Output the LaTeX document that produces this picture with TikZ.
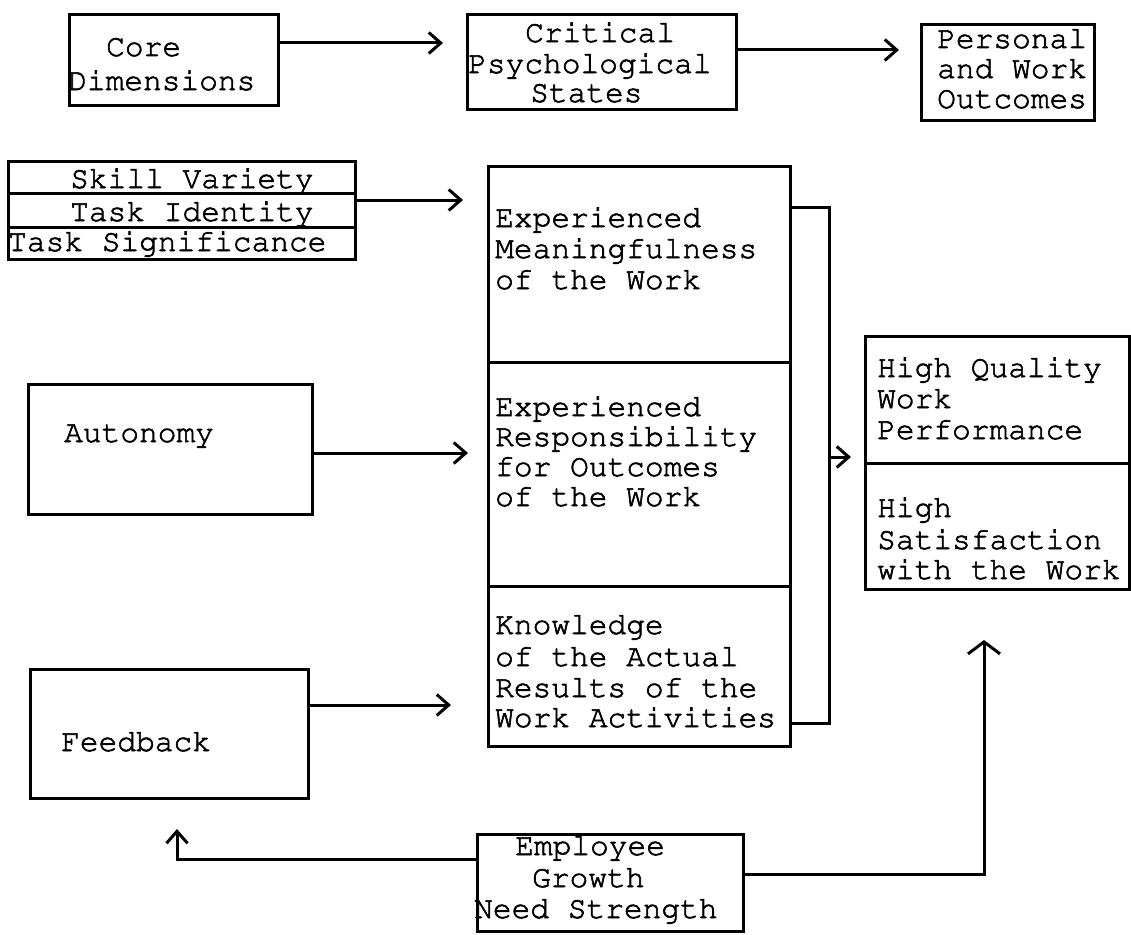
\documentclass[tikz,border=0pt]{standalone}
\usepackage[T1]{fontenc}
\newcommand\courfont{\fontencoding{T1}\fontfamily{pcr}\fontseries{m}\fontshape{n}\selectfont}
\usetikzlibrary{arrows.meta,calc}
\begin{document}
\begin{tikzpicture}[x=1pt,y=-1pt,
  box/.style={draw, line width=3pt, inner sep=0pt, anchor=north west},
  txt/.style={font={\courfont\fontsize{31.2}{32}\selectfont}, inner sep=0pt, anchor=base west,
    execute at begin node={\special{pdf:literal direct 2 Tr 0.6 w}},
    execute at end node={\special{pdf:literal direct 0 Tr}}},
  conn/.style={line width=3pt, line join=miter},
  arr/.style={conn, -{Straight Barb[length=12pt,width=21pt]}},
  arrwide/.style={conn, -{Straight Barb[length=12pt,width=32pt]}},
]
\fill[white] (0,0) rectangle (1131,934);
\useasboundingbox (0,0) rectangle (1131,934);

% ---------- boxes ----------
\node[box, minimum width=209pt, minimum height=91pt] (core) at (68,13) {};
\node[box, minimum width=269pt, minimum height=95pt] (crit) at (466,13) {};
\node[box, minimum width=173pt, minimum height=96pt] (pers) at (920,23) {};

\node[box, minimum width=347pt, minimum height=32pt] (sv) at (7,160) {};
\node[box, minimum width=347pt, minimum height=34pt] (ti) at (7,192) {};
\node[box, minimum width=347pt, minimum height=32pt] (ts) at (7,226) {};

\node[box, minimum width=302pt, minimum height=196pt] (big1) at (487,165) {};
\node[box, minimum width=302pt, minimum height=224pt] (big2) at (487,361) {};
\node[box, minimum width=302pt, minimum height=160pt] (big3) at (487,585) {};

\node[box, minimum width=264pt, minimum height=127pt] (hq) at (864,335) {};
\node[box, minimum width=264pt, minimum height=126pt] (hs) at (864,462) {};

\node[box, minimum width=284pt, minimum height=130pt] (auto) at (27,383) {};
\node[box, minimum width=278pt, minimum height=129pt] (feed) at (29,668) {};
\node[box, minimum width=266pt, minimum height=97pt] (emp) at (476,833) {};

% ---------- texts ----------
\node[txt] (tcore1) at (106,56) {Core};
\node[txt] (tcore2) at (68,90) {Dimensions};
\node[txt] (tcrit1) at (525,42) {Critical};
\node[txt] (tcrit2) at (468,73) {Psychological};
\node[txt] (tcrit3) at (530,102) {States};
\node[txt] (tpers1) at (937,48) {Personal};
\node[txt] (tpers2) at (937,78) {and Work};
\node[txt] (tpers3) at (937,108) {Outcomes};

\node[txt] (tsv) at (70,188) {Skill Variety};
\node[txt] (tti) at (70,221) {Task Identity};
\node[txt] (tts) at (8,251) {Task Significance};

\node[txt] (tb11) at (495,227) {Experienced};
\node[txt] (tb12) at (495,258) {Meaningfulness};
\node[txt] (tb13) at (495,289) {of the Work};
\node[txt] (tb21) at (495,416) {Experienced};
\node[txt] (tb22) at (495,446) {Responsibility};
\node[txt] (tb23) at (495,476) {for Outcomes};
\node[txt] (tb24) at (495,506) {of the Work};
\node[txt] (tb31) at (495,634) {Knowledge};
\node[txt] (tb32) at (495,666) {of the Actual};
\node[txt] (tb33) at (495,697) {Results of the};
\node[txt] (tb34) at (495,727) {Work Activities};

\node[txt] (thq1) at (877,377) {High Quality};
\node[txt] (thq2) at (877,408) {Work};
\node[txt] (thq3) at (877,439) {Performance};
\node[txt] (ths1) at (877,517) {High};
\node[txt] (ths2) at (877,549) {Satisfaction};
\node[txt] (ths3) at (877,579) {with the Work};

\node[txt] (tauto) at (64,442) {Autonomy};
\node[txt] (tfeed) at (61,751) {Feedback};
\node[txt] (temp1) at (515,855) {Employee};
\node[txt] (temp2) at (532,887) {Growth};
\node[txt] (temp3) at (474,918) {Need Strength};

% ---------- connectors ----------
\coordinate (a1) at (0,43);
\coordinate (a2) at (0,50);
\coordinate (a3) at (0,200);
\coordinate (a4) at (0,453);
\coordinate (a5) at (0,705);
\draw[arr, shorten >=23pt] (core.east |- a1) -- (crit.west |- a1);
\draw[arr, shorten >=21pt] (crit.east |- a2) -- (pers.west |- a2);
\draw[arr, shorten >=24pt] (ti.east |- a3) -- (big1.west |- a3);
\draw[arr, shorten >=19pt] (auto.east |- a4) -- (big2.west |- a4);
\draw[arr, shorten >=36pt] (feed.east |- a5) -- (big3.west |- a5);

\coordinate (b1) at (829,207);
\coordinate (b2) at (829,723);
\coordinate (b3) at (829,457);
\draw[conn] (big1.east |- b1) -- (b1) -- (b2) -- (big3.east |- b2);
\draw[arr, shorten >=13pt] (b3) -- (hq.west |- b3);

\coordinate (e1) at (177,859);
\coordinate (e2) at (984,874);
\draw[arr, shorten >=29pt] (emp.west |- e1) -- (e1) -- (feed.south -| e1);
\draw[arrwide, shorten >=49pt] (emp.east |- e2) -- (e2) -- (hs.south -| e2);
\end{tikzpicture}
\end{document}
